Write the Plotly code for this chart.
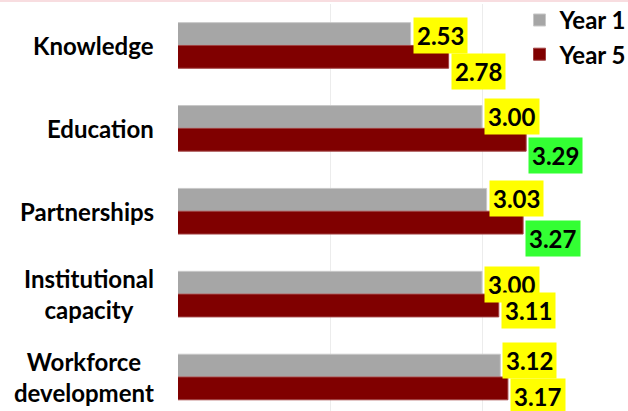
import plotly.graph_objects as go

categories = ["Knowledge", "Education", "Partnerships", "Institutional<br>capacity", "Workforce<br>development"]
year1 = [2.53, 3.00, 3.03, 3.00, 3.12]
year5 = [2.78, 3.29, 3.27, 3.11, 3.17]
year5_highlight = [False, True, True, False, False]
series_names = ["Year 1", "Year 5"]

# label vertical nudges in pixels (positive = downward), as placed in the original
year1_label_nudge = [1, 0, -1, 2, -5]
year5_label_nudge = [15, 16, 16, 5, 8]

GRAY = "#a6a6a6"
RED = "#800000"
YELLOW = "#ffff00"
GREEN = "#33ff33"
FONT = "Lato"
FS = 24

bargap = 0.45
bw = (1 - bargap) / 2
H = 411
MT = 4

fig = go.Figure()
fig.add_trace(go.Bar(y=list(range(len(categories))), x=year1, orientation="h", name=f"<b>{series_names[0]}</b>",
                     marker=dict(color=GRAY, line=dict(color="#c8c8c8", width=1))))
fig.add_trace(go.Bar(y=list(range(len(categories))), x=year5, orientation="h", name=f"<b>{series_names[1]}</b>",
                     marker=dict(color=RED, line=dict(color="#a04040", width=1))))

annotations = []
for i, (v1, v5, hl) in enumerate(zip(year1, year5, year5_highlight)):
    annotations.append(dict(x=v1, y=i - bw / 2, xref="x", yref="y", text=f"<b>{v1:.2f}</b>",
                            showarrow=False, xanchor="left", yanchor="middle", xshift=2,
                            yshift=-year1_label_nudge[i],
                            bgcolor=YELLOW, borderpad=3,
                            font=dict(family=FONT, size=FS, color="black")))
    annotations.append(dict(x=v5, y=i + bw / 2, xref="x", yref="y", text=f"<b>{v5:.2f}</b>",
                            showarrow=False, xanchor="left", yanchor="middle", xshift=2,
                            yshift=-year5_label_nudge[i],
                            bgcolor=GREEN if hl else YELLOW, borderpad=3,
                            font=dict(family=FONT, size=FS, color="black")))
    annotations.append(dict(x=1, y=i, xref="x", yref="y", text=f"<b>{categories[i]}</b>",
                            showarrow=False, xanchor="right", yanchor="middle", xshift=-22,
                            align="center",
                            font=dict(family=FONT, size=FS, color="black")))

fig.update_layout(
    width=628, height=H,
    margin=dict(l=178, r=0, t=MT, b=0, autoexpand=False),
    paper_bgcolor="white", plot_bgcolor="white",
    barmode="group", bargap=bargap, bargroupgap=0,
    xaxis=dict(range=[1, 3.96], dtick=1, showgrid=True, gridcolor="#ececec", gridwidth=1,
               showticklabels=False, zeroline=False, showline=False, ticks=""),
    yaxis=dict(range=[4.41, -0.5], showticklabels=False, showgrid=False, zeroline=False, ticks=""),
    legend=dict(x=1.01, y=1.015, xanchor="right", yanchor="top", bgcolor="rgba(255,255,255,0)",
                font=dict(family=FONT, size=24, color="black"), traceorder="normal",
                itemwidth=30, tracegroupgap=0),
    annotations=annotations,
    shapes=[dict(type="rect", xref="paper", yref="paper", x0=-1, x1=1.1,
                 y0=1 + 2 / (H - MT), y1=1.03,
                 fillcolor="#f8dde0", line=dict(width=0), layer="above")],
    showlegend=True,
)
fig.write_html("out.html", config={"displayModeBar": False},
               post_script="document.body.style.margin='0';document.body.style.overflow='hidden';")
